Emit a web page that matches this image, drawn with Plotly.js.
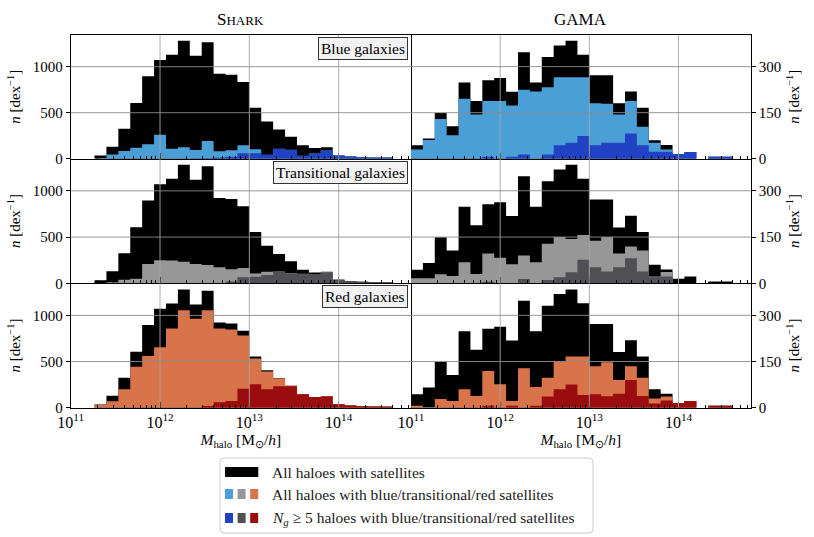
<!DOCTYPE html>
<html>
<head>
<meta charset="utf-8">
<script src="https://cdn.plot.ly/plotly-3.0.1.min.js"></script>
<style>body{margin:0;background:#fff}#chart{width:814px;height:537px}</style>
</head>
<body>
<div id="chart"></div>
<script>
// histogram bins in log10(M_halo): start at 11, width 2/15 dex
var binStart = 11, binWidth = 2 / 15;

// SHARK counts per bin [dex^-1]
var sharkAll   = [0,0,34,130,325,606,895,1072,1130,1282,1119,1267,924,913,834,554,405,318,238,147,117,124,36,25,18,14,12];
var sharkBlue  = [0,0,4,47,83,118,156,261,108,124,95,192,80,92,146,103,42,108,96,31,56,89,37,25,15,12,11];
var sharkBlueN = [0,0,0,0,0,0,0,0,0,0,3,6,14,22,58,58,40,105,94,29,54,87,36,25,14,11,11];
var sharkTran  = [0,0,0,12,38,50,210,250,248,232,210,197,174,153,166,105,125,128,112,103,95,122,42,25,18,14,12];
var sharkTranN = [0,0,0,0,0,0,0,0,0,0,0,0,0,20,65,70,90,122,110,100,92,120,40,25,17,13,11];
var sharkRed   = [0,0,29,69,199,445,561,655,858,1057,963,1057,858,847,782,534,392,316,237,147,116,123,38,25,17,13,11];
var sharkRedN  = [0,0,0,0,0,0,0,0,0,0,0,18,58,72,206,253,199,232,232,147,115,122,38,25,17,13,10];

// GAMA counts per bin [dex^-1]
var gamaAll   = [44,66,149,106,248,188,256,263,218,347,248,331,369,384,339,272,272,181,219,166,60,45,15,22,0,6,6];
var gamaBlue  = [30,61,129,76,195,144,188,188,173,225,219,233,265,265,265,181,179,144,188,104,52,30,15,22,0,6,6];
var gamaBlueN = [0,0,0,0,0,0,6,0,6,14,0,14,44,52,74,44,52,52,82,44,23,23,15,22,0,6,6];
var gamaTran  = [16,16,29,24,68,30,97,83,62,90,68,128,150,144,157,138,150,97,119,106,22,37,0,0,0,0,0];
var gamaTranN = [0,0,0,0,0,0,5,0,0,14,0,11,20,36,76,52,38,52,81,38,20,22,0,0,0,0,0];
var gamaRed   = [6,0,28,22,60,38,119,76,22,128,67,97,150,166,166,135,148,90,135,97,30,36,14,22,0,6,6];
var gamaRedN  = [0,0,0,0,0,0,6,0,6,0,6,36,60,75,41,44,37,45,90,38,14,23,14,22,0,6,6];

var rowLabels = ['Blue galaxies', 'Transitional galaxies', 'Red galaxies'];
var colTitles = ['S<span style="font-size:13px">HARK</span>', 'GAMA'];

var cBlack = '#000000';
var cSub = ['#4aa0d6', '#979797', '#d8734a'];
var cNg  = ['#2142c4', '#4f4f54', '#9b0c0e'];
var font = 'Liberation Serif, Times New Roman, serif';

var xRange = [11, 14.81];
var W = 814, H = 537;
var colDom = [[70.7 / W, 411 / W], [411 / W, 750.7 / W]];
var rowDom = [[1 - 158.7 / H, 1 - 34.7 / H], [1 - 283.3 / H, 1 - 158.7 / H], [1 - 407.7 / H, 1 - 283.3 / H]];

function stepTrace(vals, color, xa, ya) {
  var x = [], y = [];
  for (var i = 0; i < vals.length; i++) {
    x.push(Math.pow(10, binStart + i * binWidth));
    y.push(vals[i]);
  }
  x.push(Math.pow(10, binStart + vals.length * binWidth));
  y.push(vals[vals.length - 1]);
  return {
    x: x, y: y, xaxis: xa, yaxis: ya, type: 'scatter', mode: 'lines',
    line: {shape: 'hv', width: 0, color: color},
    fill: 'tozeroy', fillcolor: color, hoverinfo: 'skip', showlegend: false
  };
}

var panels = [
  [sharkAll, sharkBlue, sharkBlueN], [gamaAll, gamaBlue, gamaBlueN],
  [sharkAll, sharkTran, sharkTranN], [gamaAll, gamaTran, gamaTranN],
  [sharkAll, sharkRed, sharkRedN],   [gamaAll, gamaRed, gamaRedN]
];

var minorVals = [];
for (var p = 11; p <= 14; p++)
  for (var m = 2; m <= 9; m++)
    if (Math.log10(m) + p < xRange[1]) minorVals.push(m * Math.pow(10, p));

var data = [], shapes = [], annotations = [];
var layout = {
  width: W, height: H, margin: {l: 0, r: 0, t: 0, b: 0},
  paper_bgcolor: '#fff', plot_bgcolor: '#fff',
  font: {family: font, size: 15, color: '#000'},
  showlegend: false
};

panels.forEach(function(sets, k) {
  var row = Math.floor(k / 2), col = k % 2, n = k + 1;
  var xa = 'x' + (n === 1 ? '' : n), ya = 'y' + (n === 1 ? '' : n);
  var xk = 'xaxis' + (n === 1 ? '' : n), yk = 'yaxis' + (n === 1 ? '' : n);
  data.push(stepTrace(sets[0], cBlack, xa, ya));
  data.push(stepTrace(sets[1], cSub[row], xa, ya));
  data.push(stepTrace(sets[2], cNg[row], xa, ya));

  var yTicks = col === 0 ? [0, 500, 1000] : [0, 150, 300];
  layout[xk] = {
    type: 'log', range: xRange, domain: colDom[col], anchor: ya,
    showline: true, linecolor: '#000', linewidth: 1, mirror: row === 0,
    showgrid: false, zeroline: false,
    ticks: 'inside', ticklen: 6, tickcolor: '#000',
    tickvals: [1e11, 1e12, 1e13, 1e14],
    ticktext: ['10<sup>11</sup>', '10<sup>12</sup>', '10<sup>13</sup>', '10<sup>14</sup>'],
    tickfont: {size: 16},
    showticklabels: row === 2,
    minor: {tickmode: 'array', tickvals: minorVals, ticks: 'inside', ticklen: 3, tickcolor: '#000', showgrid: false},
    automargin: false
  };
  if (row === 2) {
    layout[xk].title = {text: '<i>M</i><sub>halo</sub> [M<sub>⊙</sub>/<i>h</i>]', standoff: 3, font: {size: 15.5}};
  }
  layout[yk] = {
    range: col === 0 ? [0, 1348] : [0, 404], domain: rowDom[row], anchor: xa,
    side: col === 0 ? 'left' : 'right',
    showline: true, linecolor: '#000', linewidth: 1, mirror: col === 0,
    showgrid: false, zeroline: false,
    ticks: 'outside', ticklen: 4, tickcolor: '#000', tickvals: yTicks,
    title: {text: '<i>n</i> [dex<sup>−1</sup>]', standoff: 8, font: {size: 15}},
    automargin: false
  };

  // grid lines drawn over the bars
  [1e12, 1e13, 1e14].forEach(function(v) {
    var f = (Math.log10(v) - xRange[0]) / (xRange[1] - xRange[0]);
    shapes.push({type: 'line', xref: xa + ' domain', yref: ya + ' domain', x0: f, x1: f, y0: 0, y1: 1,
      layer: 'above', line: {color: 'rgba(165,165,165,0.9)', width: 1}});
  });
  yTicks.slice(1).forEach(function(v) {
    shapes.push({type: 'line', xref: xa + ' domain', yref: ya, x0: 0, x1: 1, y0: v, y1: v,
      layer: 'above', line: {color: 'rgba(140,140,140,0.9)', width: 1}});
  });

  if (col === 0) {
    annotations.push({
      text: rowLabels[row], xref: xa + ' domain', yref: ya + ' domain',
      x: 0.992, y: 0.985, xanchor: 'right', yanchor: 'top', showarrow: false,
      font: {size: 15.5}, bgcolor: '#f2f2f2', bordercolor: '#333', borderwidth: 1, borderpad: 2
    });
  }
});

colTitles.forEach(function(t, i) {
  annotations.push({text: t, xref: 'paper', yref: 'paper', x: (colDom[i][0] + colDom[i][1]) / 2,
    y: 1 - 20 / H, xanchor: 'center', yanchor: 'middle', showarrow: false, font: {size: 17}});
});

// legend drawn by hand: one black swatch, then three swatches per row
function px(x) { return x / W; }
function py(y) { return 1 - y / H; }
var r = 4;
var bx0 = 220, bx1 = 593, by0 = 458, by1 = 533;
shapes.push({type: 'path', xref: 'paper', yref: 'paper', layer: 'above',
  fillcolor: 'rgba(255,255,255,0.9)', line: {color: '#cccccc', width: 1},
  path: 'M' + px(bx0 + r) + ',' + py(by0) + ' L' + px(bx1 - r) + ',' + py(by0) +
        ' Q' + px(bx1) + ',' + py(by0) + ' ' + px(bx1) + ',' + py(by0 + r) +
        ' L' + px(bx1) + ',' + py(by1 - r) +
        ' Q' + px(bx1) + ',' + py(by1) + ' ' + px(bx1 - r) + ',' + py(by1) +
        ' L' + px(bx0 + r) + ',' + py(by1) +
        ' Q' + px(bx0) + ',' + py(by1) + ' ' + px(bx0) + ',' + py(by1 - r) +
        ' L' + px(bx0) + ',' + py(by0 + r) +
        ' Q' + px(bx0) + ',' + py(by0) + ' ' + px(bx0 + r) + ',' + py(by0) + ' Z'});

var legRows = [
  {y: 472, colors: [cBlack], text: 'All haloes with satellites'},
  {y: 494, colors: cSub, text: 'All haloes with blue/transitional/red satellites'},
  {y: 518, colors: cNg, text: '<i>N</i><sub><i>g</i></sub> ≥ 5 haloes with blue/transitional/red satellites'}
];
legRows.forEach(function(lr) {
  if (lr.colors.length === 1) {
    shapes.push({type: 'rect', xref: 'paper', yref: 'paper', layer: 'above',
      x0: px(225), x1: px(258.3), y0: py(lr.y - 5), y1: py(lr.y + 5),
      fillcolor: lr.colors[0], line: {width: 0}});
  } else {
    lr.colors.forEach(function(c, j) {
      var x0 = 225 + j * 12.6;
      shapes.push({type: 'rect', xref: 'paper', yref: 'paper', layer: 'above',
        x0: px(x0), x1: px(x0 + 8), y0: py(lr.y - 5), y1: py(lr.y + 5),
        fillcolor: c, line: {width: 0}});
    });
  }
  annotations.push({text: lr.text, xref: 'paper', yref: 'paper', x: px(270), y: py(lr.y),
    xanchor: 'left', yanchor: 'middle', showarrow: false, font: {size: 15.5, color: '#1a1a1a'}});
});

layout.shapes = shapes;
layout.annotations = annotations;

Plotly.newPlot('chart', data, layout, {displayModeBar: false, staticPlot: true});
</script>
</body>
</html>
